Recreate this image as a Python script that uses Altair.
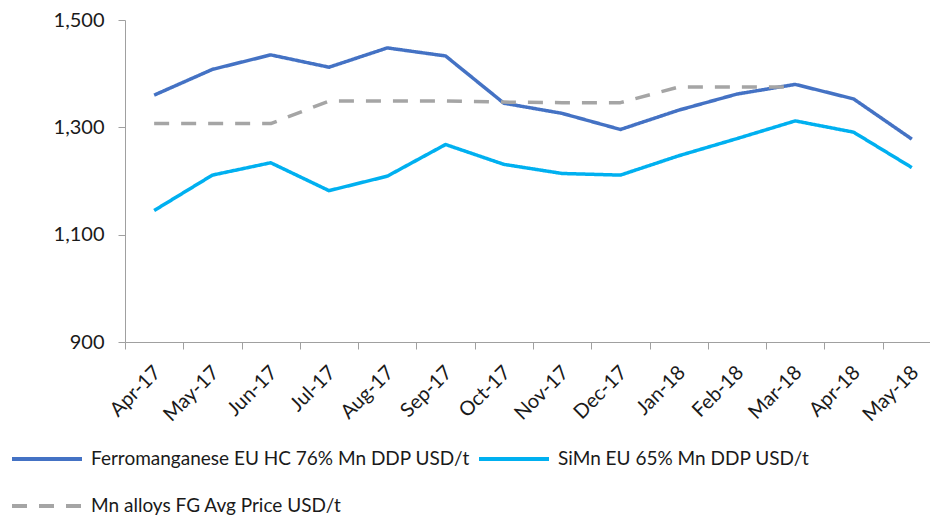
import altair as alt
import pandas as pd

months = ["Apr-17", "May-17", "Jun-17", "Jul-17", "Aug-17", "Sep-17", "Oct-17",
          "Nov-17", "Dec-17", "Jan-18", "Feb-18", "Mar-18", "Apr-18", "May-18"]
ferro = [1360, 1408, 1435, 1412, 1448, 1433, 1345, 1326, 1296, 1332, 1362, 1380, 1353, 1278]
simn = [1145, 1211, 1234, 1182, 1209, 1268, 1231, 1214, 1211, 1247, 1279, 1312, 1291, 1225]
fg = [1307, 1307, 1307, 1349, 1349, 1349, 1347, 1346, 1346, 1375, 1375, 1375, None, None]

names = ["Ferromanganese EU HC 76% Mn DDP USD/t",
         "SiMn EU 65% Mn DDP USD/t",
         "Mn alloys FG Avg Price USD/t"]
colors = ["#4472C4", "#00B0F0", "#A5A5A5"]
dashes = [[1, 0], [1, 0], [15, 12]]
legend_order = [names[0], names[2], names[1]]

rows = []
for name, vals in zip(names, [ferro, simn, fg]):
    for m, v in zip(months, vals):
        if v is not None:
            rows.append({"month": m, "value": v, "series": name})
df = pd.DataFrame(rows)

font = "Lato"

chart = alt.Chart(df).mark_line(strokeWidth=3.5, strokeJoin="round").encode(
    x=alt.X("month:N", sort=months, title=None,
            scale=alt.Scale(paddingInner=0, paddingOuter=0, range=[0, 816]),
            axis=alt.Axis(labelAngle=-45, labelFontSize=20, labelFont=font,
                          labelColor="#1a1a1a", tickBand="extent", tickSize=7,
                          tickColor="#A0A0A0", domainColor="#A0A0A0",
                          labelPadding=20, labelOffset=3,
                          labelAlign="right", labelBaseline="middle")),
    y=alt.Y("value:Q", title=None,
            scale=alt.Scale(domain=[900, 1500], nice=False, zero=False),
            axis=alt.Axis(values=[900, 1100, 1300, 1500], format=",d", grid=False,
                          labelFontSize=20, labelFont=font, labelColor="#1a1a1a",
                          tickSize=7, tickColor="#A0A0A0", domainColor="#A0A0A0",
                          labelPadding=14)),
    color=alt.Color("series:N", sort=names, title=None,
                    scale=alt.Scale(domain=names, range=colors),
                    legend=alt.Legend(orient="none", legendX=-115, legendY=402,
                                      values=legend_order,
                                      columns=2, columnPadding=1, rowPadding=0,
                                      symbolType="stroke", symbolSize=4900,
                                      symbolStrokeWidth=4, labelFontSize=19,
                                      labelFont=font, labelColor="#1a1a1a",
                                      labelLimit=500, symbolOffset=0, labelOffset=7)),
    strokeDash=alt.StrokeDash("series:N", sort=names, title=None,
                              scale=alt.Scale(domain=names, range=dashes)),
).properties(
    width=805, height=322,
    autosize=alt.AutoSizeParams(type="none"),
    padding={"left": 117, "top": 12, "right": 0, "bottom": 176},
).configure_view(stroke=None)

chart.save("out.html", embed_options={"renderer": "svg", "actions": False})
